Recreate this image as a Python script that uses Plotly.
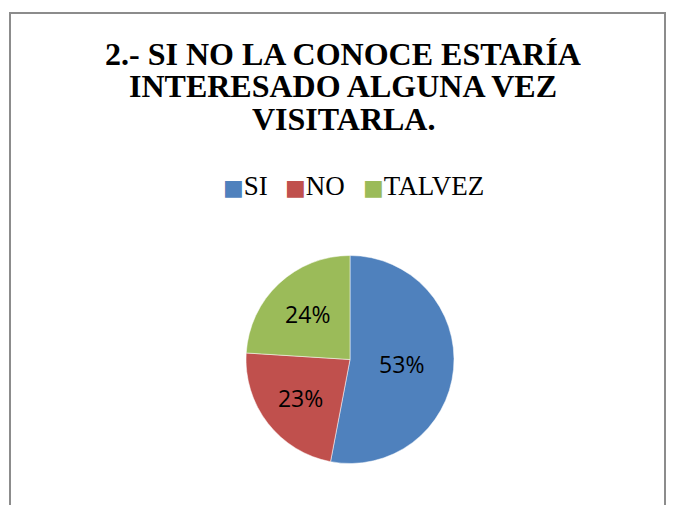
import plotly.graph_objects as go

labels = ["SI", "NO", "TALVEZ"]
values = [53, 23, 24]
colors = ["#4F81BD", "#C0504D", "#9BBB59"]
title_lines = ["2.- SI NO LA CONOCE ESTARÍA", "INTERESADO ALGUNA VEZ", "VISITARLA."]

# page body has an 8px margin; figure sized to fill the rest of the window
OFF = 8
W, H = 678 - OFF, 505 - OFF
cx, cy, r = 350 - OFF, 359.5 - OFF, 104

serif = "Liberation Serif, Times New Roman, serif"

fig = go.Figure(go.Pie(
    labels=labels,
    values=values,
    marker=dict(colors=colors, line=dict(color="white", width=0.5)),
    sort=False,
    direction="clockwise",
    rotation=0,
    textinfo="percent",
    textposition="inside",
    insidetextorientation="horizontal",
    textfont=dict(family="Open Sans, Noto Sans, sans-serif", size=23, color="black"),
    domain=dict(x=[(cx - r) / W, (cx + r) / W], y=[(H - cy - r) / H, (H - cy + r) / H]),
    hoverinfo="label+percent",
    showlegend=False,
))

title_y = [54 - OFF, 86.5 - OFF, 119 - OFF]
annotations = [
    dict(
        text="<b>" + line + "</b>",
        x=(343 - OFF) / W, y=1 - yy / H, xref="paper", yref="paper",
        xanchor="center", yanchor="middle",
        height=32, valign="middle",
        showarrow=False,
        font=dict(family=serif, size=32, color="black"),
    )
    for line, yy in zip(title_lines, title_y)
]

# legend entries (square key + label), left edges of each key
legend_x = [221, 283, 361]
for lab, col, lx in zip(labels, colors, legend_x):
    annotations.append(dict(
        text=f"<span style='color:{col};font-family:DejaVu Sans;font-size:22px'>■</span>{lab}",
        x=(lx - OFF) / W, y=1 - (186 - OFF) / H, xref="paper", yref="paper",
        xanchor="left", yanchor="middle", showarrow=False,
        font=dict(family=serif, size=27, color="black"),
    ))

fig.update_layout(
    width=W, height=H,
    margin=dict(l=0, r=0, t=0, b=0),
    paper_bgcolor="white",
    showlegend=False,
    annotations=annotations,
    shapes=[dict(
        type="rect", xref="paper", yref="paper",
        x0=(10 - OFF) / W, x1=(665 - OFF) / W, y0=-0.2, y1=1 - (13 - OFF) / H,
        line=dict(color="#8c8c8c", width=2), fillcolor="rgba(0,0,0,0)",
    )],
)

fig.write_html("out.html")
